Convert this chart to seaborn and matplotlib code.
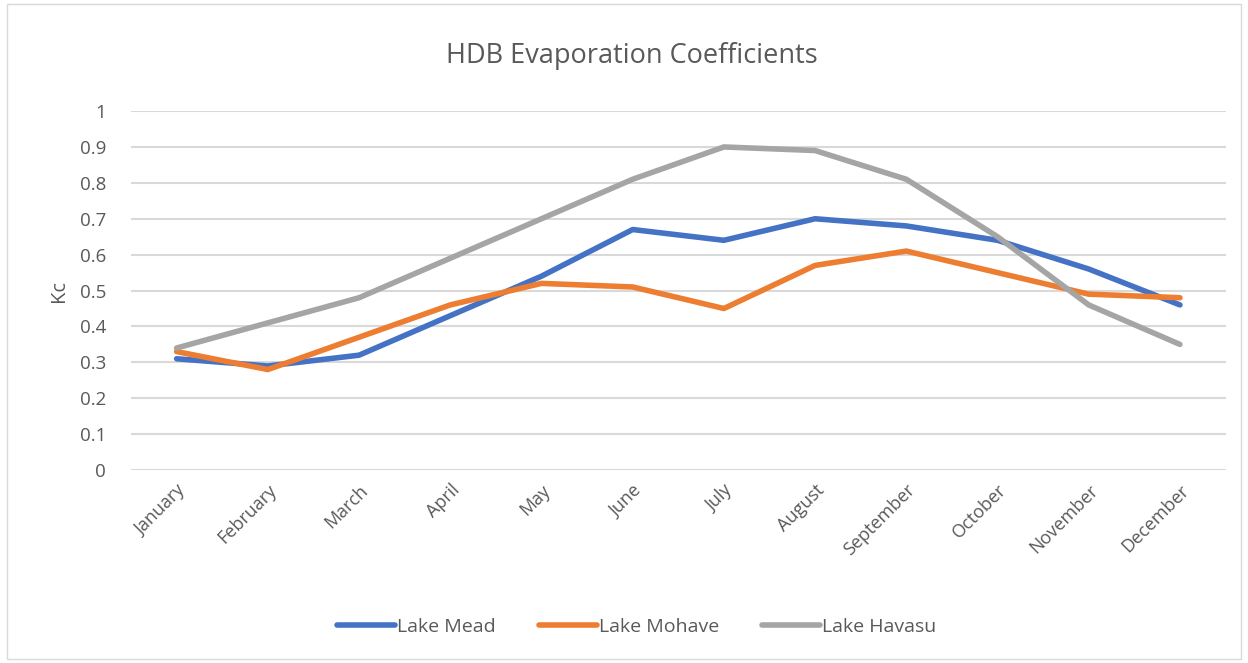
import matplotlib
matplotlib.use("Agg")
import matplotlib.pyplot as plt
import seaborn as sns
import pandas as pd
from matplotlib.patches import Rectangle

months = ["January", "February", "March", "April", "May", "June", "July",
          "August", "September", "October", "November", "December"]
lake_mead = [0.31, 0.29, 0.32, 0.43, 0.54, 0.67, 0.64, 0.70, 0.68, 0.64, 0.56, 0.46]
lake_mohave = [0.33, 0.28, 0.37, 0.46, 0.52, 0.51, 0.45, 0.57, 0.61, 0.55, 0.49, 0.48]
lake_havasu = [0.34, 0.41, 0.48, 0.59, 0.70, 0.81, 0.90, 0.89, 0.81, 0.65, 0.46, 0.35]
series_names = ["Lake Mead", "Lake Mohave", "Lake Havasu"]
yticks = [0, 0.1, 0.2, 0.3, 0.4, 0.5, 0.6, 0.7, 0.8, 0.9, 1]
ytick_labels = ["0", "0.1", "0.2", "0.3", "0.4", "0.5", "0.6", "0.7", "0.8", "0.9", "1"]

frames = []
for name, vals in zip(series_names, [lake_mead, lake_mohave, lake_havasu]):
    frames.append(pd.DataFrame({"Month": months, "Kc": vals, "Lake": name}))
df = pd.concat(frames, ignore_index=True)

sns.set_theme(style="white")
plt.rcParams['font.family'] = ['Open Sans', 'DejaVu Sans']
text_color = "#595959"

fig = plt.figure(figsize=(12.48, 6.63), dpi=100)
ax = fig.add_axes([0.105, 0.291, 0.877, 0.5415])

palette = {"Lake Mead": "#4472C4", "Lake Mohave": "#ED7D31", "Lake Havasu": "#A5A5A5"}
sns.lineplot(data=df, x="Month", y="Kc", hue="Lake", palette=palette,
             linewidth=4, ax=ax, sort=False, legend=True)
for line in ax.lines:
    line.set_solid_capstyle("round")
    line.set_solid_joinstyle("round")

ax.set_xlim(-0.5, 11.5)
ax.set_ylim(0, 1)
ax.set_yticks(yticks)
ax.set_yticklabels(ytick_labels)
ax.yaxis.grid(True, color="#D9D9D9", linewidth=1.5)
ax.xaxis.grid(False)
ax.set_axisbelow(True)
for s in ax.spines.values():
    s.set_visible(False)
ax.tick_params(axis="y", length=0, pad=18, labelsize=13.5, labelcolor=text_color)
ax.tick_params(axis="x", length=0, pad=8, labelsize=13, labelcolor=text_color)
plt.setp(ax.get_xticklabels(), rotation=45, ha="right", rotation_mode="anchor")
ax.set_xlabel("")
ax.set_ylabel("Kc", fontsize=14.5, color=text_color, labelpad=8)

fig.text(0.506, 0.915, "HDB Evaporation Coefficients", ha="center", va="center",
         fontsize=19.5, color=text_color)

handles, labels = ax.get_legend_handles_labels()
ax.legend_.remove()
leg = fig.legend(handles, labels, loc="center", bbox_to_anchor=(0.51, 0.055), ncol=3,
                 frameon=False, fontsize=14, handlelength=3.0, handletextpad=0.1,
                 columnspacing=2.2)
for t in leg.get_texts():
    t.set_color(text_color)

fig.patches.append(Rectangle((0.006, 0.006), 0.988, 0.988, transform=fig.transFigure,
                             fill=False, edgecolor="#D9D9D9", linewidth=1))

fig.savefig("out.png", dpi=100)
